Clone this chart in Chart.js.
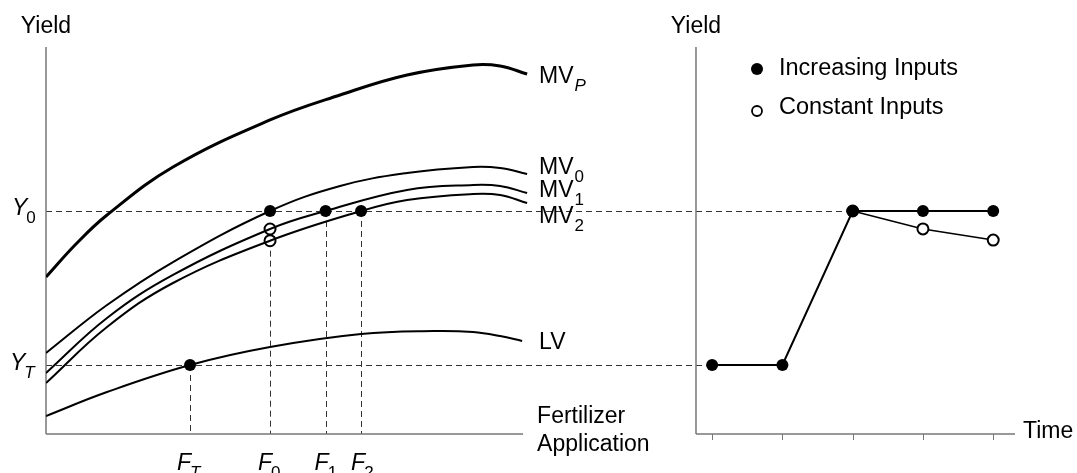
<!DOCTYPE html>
<html>
<head>
<meta charset="utf-8">
<script src="https://cdn.jsdelivr.net/npm/chart.js@4.4.1/dist/chart.umd.min.js"></script>
<style>
  html, body { margin: 0; padding: 0; background: #fff; }
  #wrap { width: 1077px; height: 473px; }
</style>
</head>
<body>
<div id="wrap"><canvas id="yieldChart" width="1077" height="473"></canvas></div>
<script>
// ------------------ Data (fertilizer units 0-100, yield units 0-100) ------------------
const mvPX = [0, 6.29, 12.79, 26.62, 46.96, 61.64, 75.68, 89.52, 95.18, 100.84];
const mvPY = [40.57, 49.10, 56.59, 69.00, 81.14, 87.60, 92.77, 95.35, 95.09, 93.02];

const mv0X = [0, 12.79, 26.62, 46.96, 61.64, 75.68, 89.52, 95.18, 100.84];
const mv0Y = [20.93, 33.33, 44.44, 57.62, 64.08, 67.44, 69.0, 68.73, 67.18];

const mv1X = [0, 12.79, 26.62, 46.96, 58.6, 75.68, 89.52, 95.18, 100.84];
const mv1Y = [15.76, 29.97, 41.09, 52.97, 57.62, 63.05, 64.34, 64.08, 62.27];

const mv2X = [0, 12.79, 26.62, 46.96, 66.04, 75.68, 89.52, 95.18, 100.84];
const mv2Y = [13.18, 27.65, 39.02, 49.95, 57.62, 60.47, 62.02, 61.76, 59.69];

const lvX = [0, 12.79, 30.19, 46.96, 66.04, 81.13, 89.52, 95.18, 99.79];
const lvY = [4.65, 10.85, 17.83, 22.48, 25.84, 26.61, 26.36, 25.32, 24.03];

// fertilizer levels and yield levels
const fertLevels = { FT: 30.19, F0: 46.96, F1: 58.6, F2: 66.04 };
const yieldY0 = 57.62;
const yieldYT = 17.83;
const openAtF0 = [52.97, 49.95];   // MV1, MV2 at F0

// right panel: yield over time
const timeSteps = [0, 1, 2, 3, 4];
const increasingInputs = [17.83, 17.83, 57.62, 57.62, 57.62];
const constantInputs = [null, null, 57.62, 53.0, 50.1];

// axis extents
const fertAxisEnd = 100;
const timeAxisStart = -0.23;
const timeAxisEnd = 4.31;

const FONT = '"Liberation Sans", Arial, Helvetica, sans-serif';

const zip = (xs, ys) => xs.map((x, i) => ({ x, y: ys[i] }));

function curve(xs, ys, width) {
  return {
    type: "line",
    data: zip(xs, ys),
    xAxisID: "xF",
    borderColor: "#000",
    borderWidth: width,
    pointRadius: 0,
    tension: 0.4,
    fill: false
  };
}

// ------------------ Overlay: axes, dashed guides, labels ------------------
const overlay = {
  id: "overlay",
  beforeDatasetsDraw(chart) {
    const { ctx, chartArea } = chart;
    const xF = chart.scales.xF, xT = chart.scales.xT, y = chart.scales.y;
    const px = v => Math.round(v) + 0.5;
    ctx.save();
    ctx.strokeStyle = "#333";
    ctx.lineWidth = 1;
    ctx.setLineDash([6, 4]);
    const seg = (x1, y1, x2, y2) => {
      ctx.beginPath(); ctx.moveTo(x1, y1); ctx.lineTo(x2, y2); ctx.stroke();
    };
    const hLine = (v, x1, x2) => seg(x1, px(y.getPixelForValue(v)), x2, px(y.getPixelForValue(v)));
    const vLine = (f, top) => {
      const x = px(xF.getPixelForValue(f));
      seg(x, y.getPixelForValue(top), x, y.getPixelForValue(0));
    };
    hLine(yieldY0, xF.getPixelForValue(0), xT.getPixelForValue(2));
    hLine(yieldYT, xF.getPixelForValue(0), xT.getPixelForValue(0));
    vLine(fertLevels.FT, yieldYT);
    vLine(fertLevels.F0, openAtF0[1]);
    vLine(fertLevels.F1, yieldY0);
    vLine(fertLevels.F2, yieldY0);

    // axes
    ctx.setLineDash([]);
    ctx.strokeStyle = "#777";
    ctx.lineWidth = 1.5;
    const y0 = y.getPixelForValue(0);
    const lx = xF.getPixelForValue(0);
    const rx = xT.getPixelForValue(timeAxisStart);
    seg(lx, y0, lx, chartArea.top);
    seg(lx, y0, xF.getPixelForValue(fertAxisEnd), y0);
    seg(rx, y0, rx, chartArea.top);
    seg(rx, y0, xT.getPixelForValue(timeAxisEnd), y0);
    ctx.lineWidth = 1;
    timeSteps.forEach(t => {
      const tx = px(xT.getPixelForValue(t));
      seg(tx, y0, tx, y0 + 6);
    });
    ctx.restore();
  },
  afterDraw(chart) {
    const { ctx } = chart;
    const xF = chart.scales.xF, xT = chart.scales.xT, y = chart.scales.y;
    ctx.save();
    ctx.fillStyle = "#000";
    ctx.textBaseline = "middle";

    const text = (s, x, yy, italic, size, align) => {
      ctx.font = (italic ? "italic " : "") + size + "px " + FONT;
      ctx.textAlign = align || "left";
      ctx.fillText(s, x, yy);
      return ctx.measureText(s).width;
    };
    // main text followed by a subscript
    const sub = (main, s, x, yy, mainItalic, subItalic) => {
      const w = text(main, x, yy, mainItalic, 23);
      text(s, x + w + (mainItalic ? -1 : 1), yy + 9, subItalic, 17);
    };

    const lx = xF.getPixelForValue(0);
    const rx = xT.getPixelForValue(timeAxisStart);
    text("Yield", lx, 27, false, 23, "center");
    text("Yield", rx, 27, false, 23, "center");

    const fy = 464;
    const cx = xF.getPixelForValue(100.84) + 12;
    const subLabels = [
      ["Y", "0", 12, y.getPixelForValue(yieldY0) - 2, true, false],
      ["Y", "T", 10, y.getPixelForValue(yieldYT) - 1, true, true],
      ["F", "T", xF.getPixelForValue(fertLevels.FT) - 13, fy, true, true],
      ["F", "0", xF.getPixelForValue(fertLevels.F0) - 12, fy, true, false],
      ["F", "1", xF.getPixelForValue(fertLevels.F1) - 11, fy, true, false],
      ["F", "2", xF.getPixelForValue(fertLevels.F2) - 10, fy, true, false],
      ["MV", "P", cx, 77, false, true],
      ["MV", "0", cx, 168, false, false],
      ["MV", "1", cx, 191, false, false],
      ["MV", "2", cx, 217, false, false]
    ];
    subLabels.forEach(l => sub(...l));

    text("LV", cx, 343, false, 23);
    text("Fertilizer", cx - 2, 417, false, 23);
    text("Application", cx - 2, 445, false, 23);
    text("Time", xT.getPixelForValue(timeAxisEnd) + 8, 432, false, 23);

    // legend
    const lgx = 757;
    ctx.beginPath(); ctx.arc(lgx, 69, 6, 0, Math.PI * 2); ctx.fill();
    ctx.beginPath(); ctx.arc(lgx, 111, 5, 0, Math.PI * 2);
    ctx.strokeStyle = "#000"; ctx.lineWidth = 1.8; ctx.stroke();
    text("Increasing Inputs", 779, 69, false, 23.5);
    text("Constant Inputs", 779, 108, false, 23.5);
    ctx.restore();
  }
};

document.addEventListener("DOMContentLoaded", () => {
  const ctx = document.getElementById("yieldChart").getContext("2d");

  new Chart(ctx, {
    data: {
      datasets: [
        curve(mvPX, mvPY, 3),
        curve(mv0X, mv0Y, 2),
        curve(mv1X, mv1Y, 2),
        curve(mv2X, mv2Y, 2),
        curve(lvX, lvY, 2),
        {
          type: "scatter",
          xAxisID: "xF",
          data: [
            { x: fertLevels.FT, y: yieldYT },
            { x: fertLevels.F0, y: yieldY0 },
            { x: fertLevels.F1, y: yieldY0 },
            { x: fertLevels.F2, y: yieldY0 }
          ],
          pointRadius: 6,
          backgroundColor: "#000",
          borderColor: "#000",
          borderWidth: 0
        },
        {
          type: "scatter",
          xAxisID: "xF",
          data: openAtF0.map(v => ({ x: fertLevels.F0, y: v })),
          pointRadius: 5.5,
          backgroundColor: "#fff",
          borderColor: "#000",
          borderWidth: 2
        },
        {
          type: "line",
          xAxisID: "xT",
          order: 0,
          data: zip(timeSteps, increasingInputs),
          borderColor: "#000",
          borderWidth: 2,
          pointRadius: 6,
          pointBackgroundColor: "#000",
          pointBorderWidth: 0,
          tension: 0
        },
        {
          type: "line",
          xAxisID: "xT",
          order: 1,
          data: zip(timeSteps, constantInputs),
          borderColor: "#000",
          borderWidth: 1.5,
          pointRadius: 5.5,
          pointBackgroundColor: "#fff",
          pointBorderColor: "#000",
          pointBorderWidth: 2,
          tension: 0
        }
      ]
    },
    options: {
      responsive: false,
      animation: false,
      layout: { padding: { left: 46, top: 47, right: 62, bottom: 39 } },
      plugins: { legend: { display: false }, tooltip: { enabled: false } },
      scales: {
        xF: { type: "linear", display: false, min: 0, max: 203.1 },
        xT: { type: "linear", display: false, min: -9.48, max: 4.31 },
        y: { type: "linear", display: false, min: 0, max: 100 }
      }
    },
    plugins: [overlay]
  });
});
</script>
</body>
</html>
